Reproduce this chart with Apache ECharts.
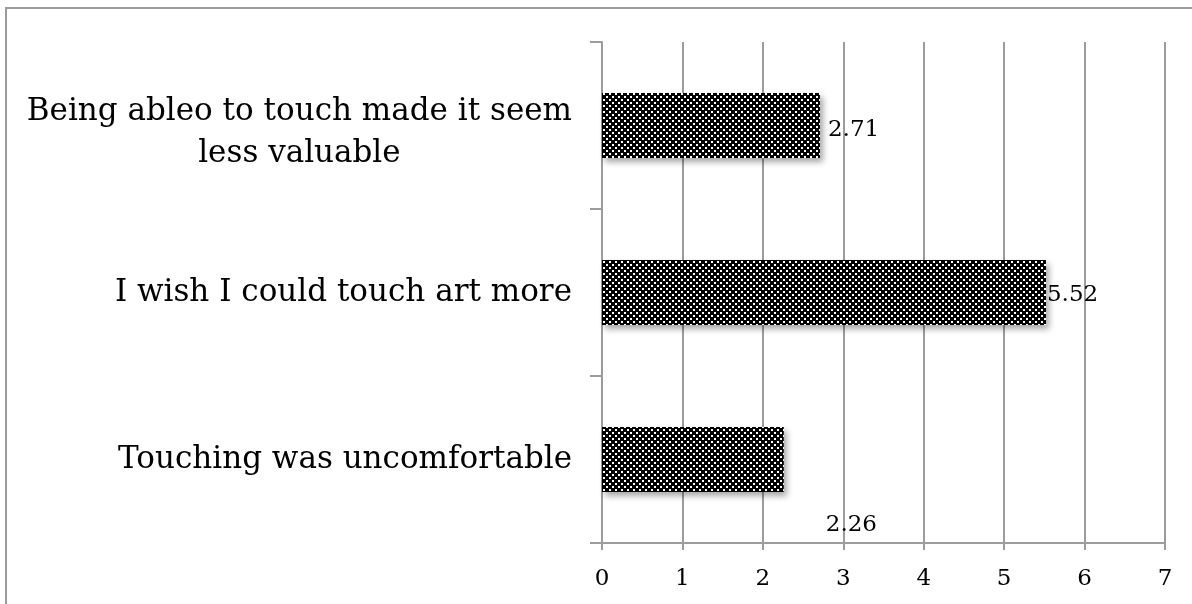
<!DOCTYPE html>
<html>
<head>
<meta charset="utf-8">
<script src="https://cdn.jsdelivr.net/npm/echarts@6/dist/echarts.min.js"></script>
<style>
  html, body { margin: 0; padding: 0; background: #fff; }
  #chart { width: 1192px; height: 604px; }
  #frame {
    position: absolute; left: 5px; top: 7px; right: 0; bottom: 0;
    border-left: 2px solid #9c9c9c; border-top: 2px solid #9c9c9c;
    pointer-events: none;
  }
</style>
</head>
<body>
<div id="chart"></div>
<div id="frame"></div>
<script>
// categories, bottom to top
const categories = [
  'Touching was uncomfortable',
  'I wish I could touch art more',
  'Being ableo to touch made it seem\nless valuable'
];
const values = [2.26, 5.52, 2.71];
const xTicks = [0, 1, 2, 3, 4, 5, 6, 7];

// black fill with white dots, like the Excel pattern fill
function dotPattern() {
  const c = document.createElement('canvas');
  c.width = 6; c.height = 6;
  const g = c.getContext('2d');
  g.fillStyle = '#000';
  g.fillRect(0, 0, 6, 6);
  g.fillStyle = '#fff';
  g.fillRect(0, 0, 2, 2);
  g.fillRect(3, 3, 2, 2);
  return c;
}

// label nudges
const labelOffsets = [[37, 66], [-4, 3], [3, 5]];

const chart = echarts.init(document.getElementById('chart'));

chart.setOption({
  animation: false,
  grid: { left: 602, right: 27, top: 42, bottom: 61 },
  xAxis: {
    type: 'value',
    min: xTicks[0],
    max: xTicks[xTicks.length - 1],
    interval: 1,
    axisLine: { show: true, lineStyle: { color: '#9c9c9c', width: 2 } },
    axisTick: { show: true, length: 7, lineStyle: { color: '#9c9c9c', width: 2 } },
    splitLine: { show: true, lineStyle: { color: '#9c9c9c', width: 2 } },
    axisLabel: {
      color: '#000', fontFamily: 'DejaVu Serif', fontSize: 23, margin: 25
    }
  },
  yAxis: {
    type: 'category',
    data: categories,
    axisLine: { show: true, lineStyle: { color: '#9c9c9c', width: 2 } },
    axisTick: { show: true, length: 12, lineStyle: { color: '#9c9c9c', width: 2 } },
    axisLabel: {
      margin: 30,
      formatter: v => v.indexOf('\n') < 0
        ? '{c|' + v + '}'
        : '{s| }\n' + v.split('\n').map(t => '{c|' + t + '}').join('\n'),
      rich: {
        c: {
          align: 'center', color: '#000',
          fontFamily: 'DejaVu Serif', fontSize: 31, lineHeight: 42
        },
        s: { fontSize: 4, lineHeight: 14 }
      }
    }
  },
  series: [{
    type: 'bar',
    barWidth: 65,
    data: values.map((v, i) => ({
      value: v,
      label: { offset: labelOffsets[i] }
    })),
    itemStyle: {
      color: { image: dotPattern(), repeat: 'repeat' },
      shadowColor: 'rgba(0,0,0,0.35)',
      shadowBlur: 6,
      shadowOffsetX: 3,
      shadowOffsetY: 4
    },
    label: {
      show: true,
      position: 'right',
      distance: 5,
      color: '#000',
      fontFamily: 'DejaVu Serif',
      fontSize: 23
    }
  }]
});
</script>
</body>
</html>
